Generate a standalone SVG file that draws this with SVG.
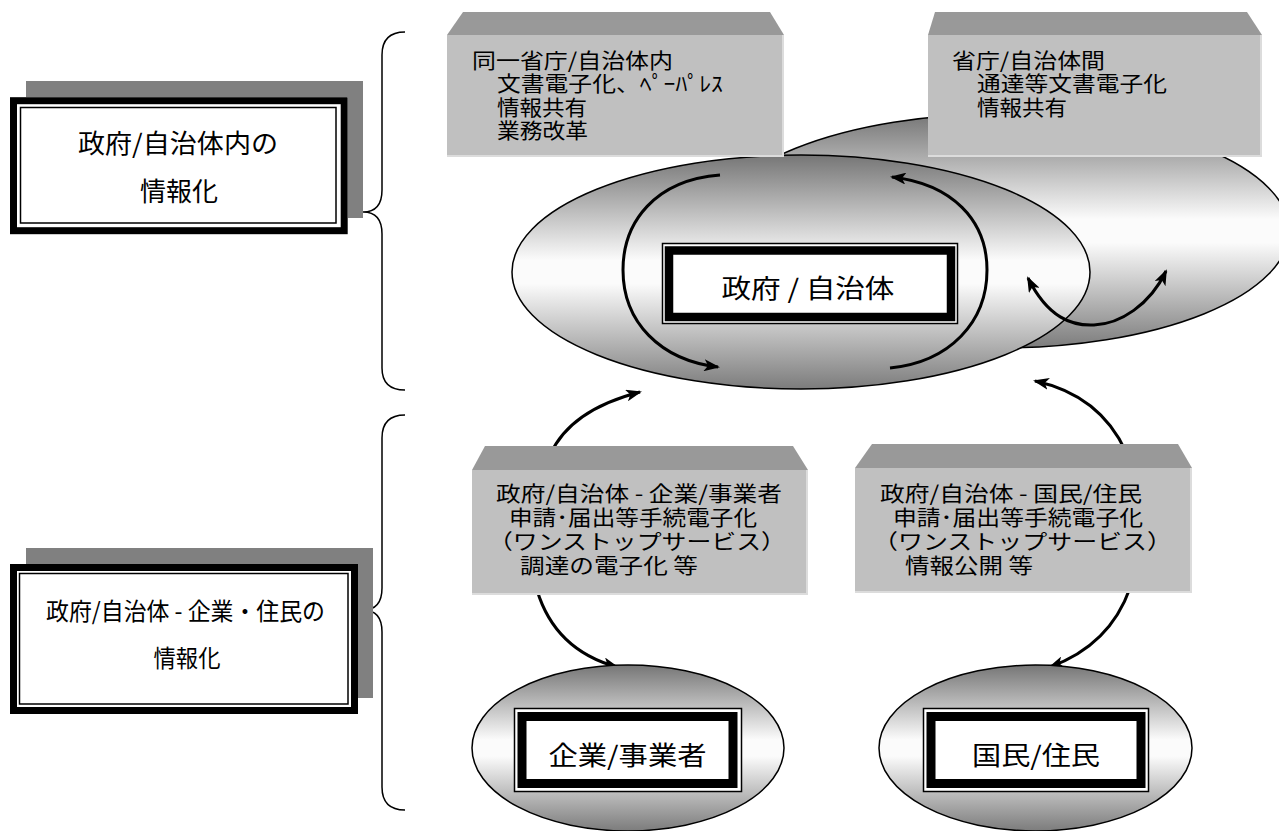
<svg xmlns="http://www.w3.org/2000/svg" width="1279" height="831" viewBox="0 0 1279 831">
<defs>
<linearGradient id="eg" x1="0" y1="0" x2="0" y2="1">
<stop offset="0" stop-color="#767676"/>
<stop offset="0.45" stop-color="#fbfbfb"/>
<stop offset="0.55" stop-color="#fbfbfb"/>
<stop offset="1" stop-color="#7c7c7c"/>
</linearGradient>
<marker id="ah" viewBox="0 0 16 12" refX="14" refY="6" markerWidth="16" markerHeight="12" markerUnits="userSpaceOnUse" orient="auto-start-reverse">
<path d="M0,0 L16,6 L0,12 L4,6 z" fill="#000"/>
</marker>
<style>
.t{font-family:"Noto Sans CJK JP","Noto Sans CJK SC",sans-serif;fill:#000;}
.brace{fill:none;stroke:#000;stroke-width:1.5;}
.ell{fill:url(#eg);stroke:#000;stroke-width:1.5;}
.shadow{fill:#808080;}
.thick{fill:none;stroke:#000;}
.thin{fill:none;stroke:#000;stroke-width:1.5;}
.top{fill:#999999;}
.front{fill:#c0c0c0;}
.edge{fill:none;stroke:#dcdcdc;stroke-width:2;}
.arr{fill:none;stroke:#000;stroke-width:3;}
</style>
</defs>
<rect width="1279" height="831" fill="#fff"/>

<g id="braces">
<path class="brace" d="M405,32 C390,32 382,40 382,55 L382,190 C382,205 375,212 363,212 C375,212 382,219 382,234 L382,368 C382,383 390,390 405,390"/>
<path class="brace" d="M405,415 C390,415 382,423 382,438 L382,588 C382,603 375,610 363,610 C375,610 382,617 382,632 L382,787 C382,802 390,810 405,810"/>
</g>

<g id="label-internal">
<rect class="shadow" x="26" y="81" width="337" height="137"/>
<rect x="10" y="97" width="338" height="137" fill="#fff"/>
<rect class="thick" x="13.5" y="100.7" width="330.7" height="130" stroke-width="7"/>
<rect class="thin" x="20.5" y="107.5" width="315.5" height="115.5"/>
<text class="t" x="178" y="153" font-size="26" text-anchor="middle" textLength="200" lengthAdjust="spacingAndGlyphs">政府/自治体内の</text>
<text class="t" x="179" y="201" font-size="26" text-anchor="middle">情報化</text>
</g>

<g id="label-external">
<rect class="shadow" x="26" y="548" width="347" height="150"/>
<rect x="10" y="564" width="348" height="150" fill="#fff"/>
<rect class="thick" x="13.5" y="567.5" width="341" height="143" stroke-width="7"/>
<rect class="thin" x="19.5" y="573.5" width="328.5" height="130.5"/>
<text class="t" x="185.5" y="620" font-size="24" text-anchor="middle" textLength="279" lengthAdjust="spacingAndGlyphs">政府/自治体 - 企業・住民の</text>
<text class="t" x="187" y="667" font-size="24" text-anchor="middle" textLength="67" lengthAdjust="spacingAndGlyphs">情報化</text>
</g>

<g id="gov-back">
<ellipse class="ell" cx="1000" cy="231" rx="289" ry="117"/>
</g>
<g id="gov-front">
<ellipse class="ell" cx="801" cy="272" rx="289" ry="117"/>
</g>

<g id="connectors">
<path class="arr" d="M720,175 C655,180 623,222 623,270 C623,322 660,360 718,367" marker-end="url(#ah)"/>
<path class="arr" d="M890,368 C950,362 987,322 987,270 C987,220 952,184 892,177" marker-end="url(#ah)"/>
<path class="arr" d="M1028,278 C1048,318 1072,326 1094,325 C1120,324 1150,305 1166,271" marker-start="url(#ah)" marker-end="url(#ah)"/>
<path class="arr" d="M550,455 Q570,410 640,392" marker-end="url(#ah)"/>
<path class="arr" d="M537,590 Q555,650 617,667" marker-end="url(#ah)"/>
<path class="arr" d="M1126,452 Q1100,395 1035,381" marker-end="url(#ah)"/>
<path class="arr" d="M1130,588 Q1110,645 1050,667" marker-end="url(#ah)"/>
</g>

<g id="gov-box">
<rect x="662" y="243" width="296" height="81" fill="#fff"/>
<rect class="thin" x="662.5" y="243.5" width="295" height="80"/>
<rect class="thick" x="669" y="250.5" width="282" height="66.5" stroke-width="8.5"/>
<text class="t" x="808" y="298" font-size="26" text-anchor="middle" textLength="173" lengthAdjust="spacingAndGlyphs">政府 / 自治体</text>
</g>

<g id="card-internal">
<polygon class="top" points="463,12 770,12 784,35 447,35"/>
<rect class="front" x="447" y="35" width="337" height="122"/>
<path class="edge" d="M783,35 L783,156 L447,156"/>
<text class="t" font-size="21">
<tspan x="472" y="68" textLength="201" lengthAdjust="spacingAndGlyphs">同一省庁/自治体内</tspan>
<tspan x="497" y="91" textLength="226" lengthAdjust="spacingAndGlyphs">文書電子化、ﾍﾟｰﾊﾟﾚｽ</tspan>
<tspan x="497" y="115" textLength="90" lengthAdjust="spacingAndGlyphs">情報共有</tspan>
<tspan x="497" y="138" textLength="91" lengthAdjust="spacingAndGlyphs">業務改革</tspan>
</text>
</g>

<g id="card-between">
<polygon class="top" points="935,12 1247,12 1262,35 928,35"/>
<rect class="front" x="928" y="35" width="334" height="122"/>
<path class="edge" d="M1261,35 L1261,156 L928,156"/>
<text class="t" font-size="21">
<tspan x="952" y="68" textLength="153" lengthAdjust="spacingAndGlyphs">省庁/自治体間</tspan>
<tspan x="977" y="91" textLength="190" lengthAdjust="spacingAndGlyphs">通達等文書電子化</tspan>
<tspan x="977" y="115" textLength="90" lengthAdjust="spacingAndGlyphs">情報共有</tspan>
</text>
</g>

<g id="card-business">
<polygon class="top" points="485,446 793,446 808,470 472,470"/>
<rect class="front" x="472" y="470" width="336" height="125"/>
<path class="edge" d="M807,470 L807,594 L472,594"/>
<text class="t" font-size="21">
<tspan x="496" y="501" textLength="286" lengthAdjust="spacingAndGlyphs">政府/自治体 - 企業/事業者</tspan>
<tspan x="509" y="525" textLength="248" lengthAdjust="spacingAndGlyphs">申請･届出等手続電子化</tspan>
<tspan x="488" y="549" textLength="298" lengthAdjust="spacingAndGlyphs">（ワンストップサービス）</tspan>
<tspan x="520" y="573" textLength="178" lengthAdjust="spacingAndGlyphs">調達の電子化 等</tspan>
</text>
</g>

<g id="card-citizen">
<polygon class="top" points="872,444 1178,444 1192,468 855,468"/>
<rect class="front" x="855" y="468" width="337" height="125"/>
<path class="edge" d="M1191,468 L1191,592 L855,592"/>
<text class="t" font-size="21">
<tspan x="880" y="501" textLength="262" lengthAdjust="spacingAndGlyphs">政府/自治体 - 国民/住民</tspan>
<tspan x="893" y="525" textLength="250" lengthAdjust="spacingAndGlyphs">申請･届出等手続電子化</tspan>
<tspan x="873" y="549" textLength="299" lengthAdjust="spacingAndGlyphs">（ワンストップサービス）</tspan>
<tspan x="905" y="573" textLength="128" lengthAdjust="spacingAndGlyphs">情報公開 等</tspan>
</text>
</g>

<g id="business">
<ellipse class="ell" cx="628" cy="748" rx="156" ry="83"/>
<rect x="514" y="708" width="228" height="84" fill="#fff"/>
<rect class="thin" x="514.5" y="708.5" width="227" height="83"/>
<rect class="thick" x="522" y="716.5" width="211" height="67" stroke-width="9"/>
<text class="t" x="627.5" y="765" font-size="26" text-anchor="middle" textLength="158" lengthAdjust="spacingAndGlyphs">企業/事業者</text>
</g>

<g id="citizen">
<ellipse class="ell" cx="1035.5" cy="748" rx="156.5" ry="83"/>
<rect x="923" y="708" width="226" height="84" fill="#fff"/>
<rect class="thin" x="923.5" y="708.5" width="225" height="83"/>
<rect class="thick" x="931" y="716.5" width="210" height="67" stroke-width="9"/>
<text class="t" x="1036" y="765" font-size="26" text-anchor="middle" textLength="128" lengthAdjust="spacingAndGlyphs">国民/住民</text>
</g>
</svg>
